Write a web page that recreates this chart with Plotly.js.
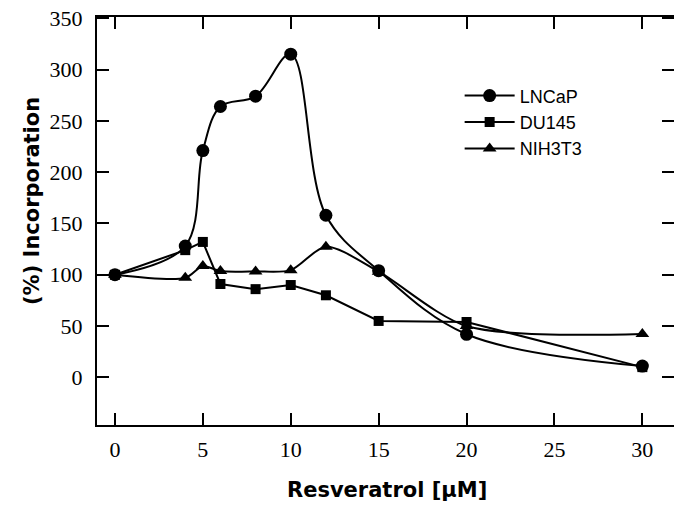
<!DOCTYPE html>
<html>
<head>
<meta charset="utf-8">
<script src="https://cdn.plot.ly/plotly-3.0.1.min.js"></script>
<style>
  html, body { margin: 0; padding: 0; background: #fff; }
  #chart { width: 674px; height: 505px; }
</style>
</head>
<body>
<div id="chart"></div>
<script>
// Resveratrol concentration (µM)
var concentrations = [0, 4, 5, 6, 8, 10, 12, 15, 20, 30];

// (%) Incorporation for each cell line
var lncapValues  = [100, 128, 221, 264, 274, 315, 158, 104, 42, 11];
var du145Values  = [100, 124, 132, 91, 86, 90, 80, 55, 54, 10];
var nih3t3Values = [100, 97, 108.6, 103.6, 103.3, 104.5, 127.3, 103, 50, 42.4];

var seriesNames = ["LNCaP", "DU145", "NIH3T3"];

var xTickValues = [0, 5, 10, 15, 20, 25, 30];
var yTickValues = [0, 50, 100, 150, 200, 250, 300, 350];

var xTitle = "Resveratrol [\u03bcM]";
var yTitle = "(%) Incorporation";

var traces = [
  {
    x: concentrations, y: lncapValues, name: seriesNames[0],
    type: "scatter", mode: "lines+markers",
    line: {color: "#000", width: 2, shape: "spline", smoothing: 1},
    marker: {symbol: "circle", size: 13, color: "#000"}
  },
  {
    x: concentrations, y: du145Values, name: seriesNames[1],
    type: "scatter", mode: "lines+markers",
    line: {color: "#000", width: 2, shape: "linear"},
    marker: {symbol: "square", size: 10, color: "#000"}
  },
  {
    x: concentrations, y: nih3t3Values, name: seriesNames[2],
    type: "scatter", mode: "lines+markers",
    line: {color: "#000", width: 2, shape: "spline", smoothing: 0.8},
    marker: {symbol: "triangle-up", size: 12, color: "#000"}
  }
];

var tickFont = {family: "Liberation Serif, Times New Roman, serif", size: 22, color: "#000"};
var titleFont = {family: "DejaVu Sans, sans-serif", size: 21, color: "#000", weight: "bold"};

var layout = {
  width: 674, height: 505,
  margin: {l: 97, r: 0, t: 17, b: 80},
  paper_bgcolor: "#fff", plot_bgcolor: "#fff",
  showlegend: true,
  legend: {
    x: 0.6285, y: 0.852, xanchor: "left", yanchor: "top",
    bgcolor: "rgba(0,0,0,0)", borderwidth: 0,
    font: {family: "Liberation Sans, Arial, sans-serif", size: 18, color: "#000"},
    itemwidth: 50
  },
  xaxis: {
    range: [-1.02, 31.8],
    tickvals: xTickValues,
    ticktext: xTickValues.map(String),
    ticks: "inside", ticklen: 12, tickwidth: 2, tickcolor: "#000",
    showline: true, linewidth: 2, linecolor: "#000", mirror: "ticks",
    showgrid: false, zeroline: false,
    ticklabelstandoff: 4,
    tickfont: tickFont
  },
  yaxis: {
    range: [-46.4, 351.2],
    tickvals: yTickValues,
    ticktext: yTickValues.map(String),
    ticks: "inside", ticklen: 12, tickwidth: 2, tickcolor: "#000",
    showline: true, linewidth: 2, linecolor: "#000", mirror: "ticks",
    showgrid: false, zeroline: false,
    ticklabelstandoff: 8,
    tickfont: tickFont
  },
  annotations: [
    {
      text: xTitle, xref: "paper", yref: "paper",
      x: 0.502, y: -0.159, xanchor: "center", yanchor: "middle",
      showarrow: false, font: titleFont
    },
    {
      text: yTitle, xref: "paper", yref: "paper", textangle: -90,
      x: -0.1127, y: 0.549, xanchor: "center", yanchor: "middle",
      showarrow: false, font: titleFont
    }
  ]
};

Plotly.newPlot("chart", traces, layout, {displayModeBar: false, staticPlot: true});
</script>
</body>
</html>
